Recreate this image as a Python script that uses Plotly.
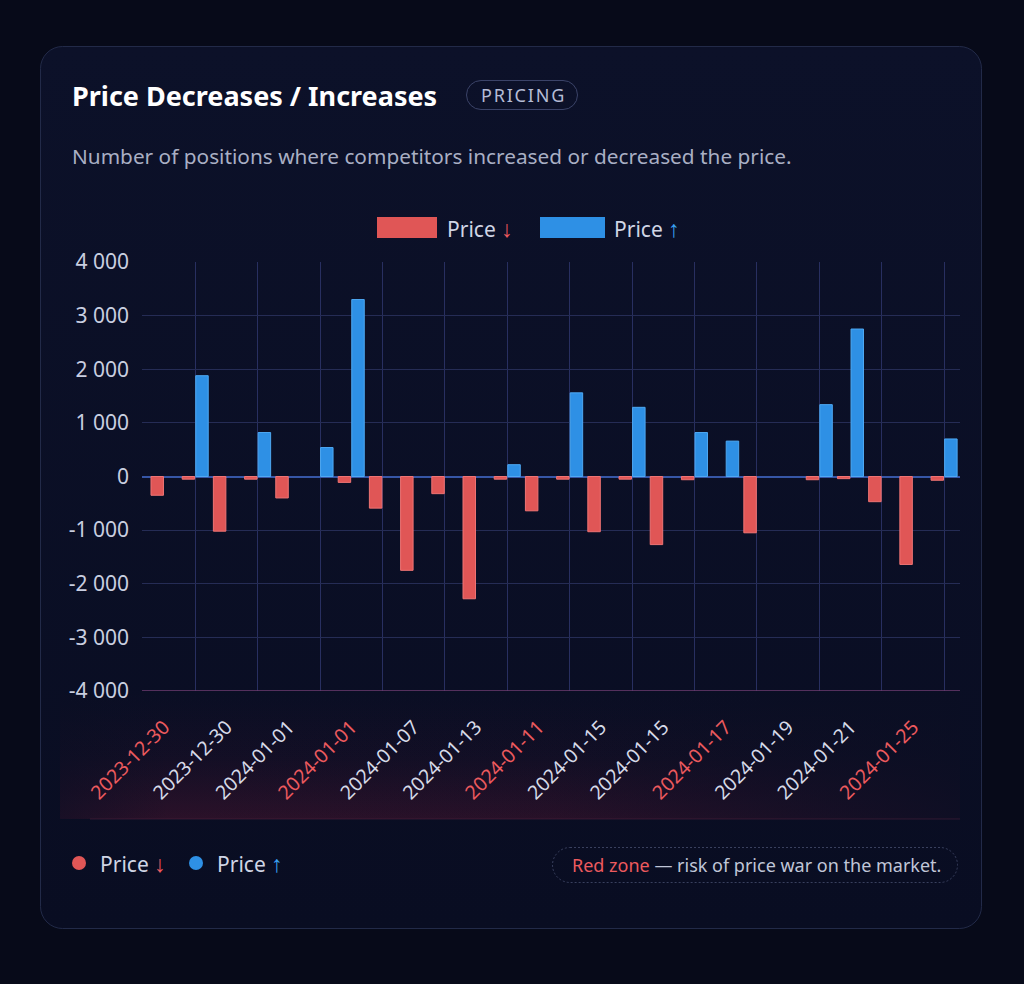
import base64
import plotly.graph_objects as go

# ---------------- data ----------------
DATE_LABELS = ["2023-12-30", "2023-12-30", "2024-01-01", "2024-01-01", "2024-01-07",
               "2024-01-13", "2024-01-11", "2024-01-15", "2024-01-15", "2024-01-17",
               "2024-01-19", "2024-01-21", "2024-01-25"]
RED_LABEL_FLAGS = [True, False, False, True, False, False, True, False, False, True,
                   False, False, True]

# 26 slots (a label every second slot)
PRICE_DOWN = [-350, -50, -1020, -50, -400, None, -110, -590, -1750, -320,
              -2280, -50, -640, -50, -1030, -50, -1270, -60, None, -1050,
              None, -60, -40, -470, -1640, -70]
PRICE_UP = [None, 1880, None, 820, None, 540, 3300, None, None, None,
            None, 220, None, 1560, None, 1290, None, 820, 660, None,
            None, 1340, 2750, None, None, 700]

Y_TICKS = [4000, 3000, 2000, 1000, 0, -1000, -2000, -3000, -4000]
Y_TICK_TEXT = ["4 000", "3 000", "2 000", "1 000", "0", "-1 000", "-2 000", "-3 000", "-4 000"]

TITLE = "Price Decreases / Increases"
BADGE = "PRICING"
SUBTITLE = "Number of positions where competitors increased or decreased the price."
NOTE_RED = "Red zone"
NOTE_REST = " — risk of price war on the market."

# ---------------- style ----------------
RED = "#e05656"
RED_EDGE = "#ef7474"
BLUE = "#2e90e5"
BLUE_EDGE = "#4ea8f2"
ARROW_RED = "#ec5a5e"
ARROW_BLUE = "#3aa2f2"
FONT = "Noto Sans"
W, H = 1024, 984
ML, MR, MT, MB = 142, 64, 262, 293
PW, PH = W - ML - MR, H - MT - MB


def px(x):
    return (x - ML) / PW


def py(y):
    return (H - MB - y) / PH


slots = list(range(len(PRICE_DOWN)))
label_slots = slots[0::2]
grid_slots = slots[1::2]
tick_text = [
    f"<span style='color:{ARROW_RED}'>{d}</span>" if f else d
    for d, f in zip(DATE_LABELS, RED_LABEL_FLAGS)
]

# ---------------- background decoration (svg) ----------------
svg = f"""<svg xmlns='http://www.w3.org/2000/svg' width='{W}' height='{H}' viewBox='0 0 {W} {H}'>
<defs>
<linearGradient id='card' x1='0' y1='0' x2='0' y2='1'>
<stop offset='0' stop-color='#0c1129'/><stop offset='1' stop-color='#090d22'/>
</linearGradient>
<linearGradient id='zone' x1='0' y1='0' x2='0' y2='1'>
<stop offset='0' stop-color='#7a1838' stop-opacity='0'/>
<stop offset='0.5' stop-color='#7a1838' stop-opacity='0.08'/>
<stop offset='1' stop-color='#8a1c3a' stop-opacity='0.26'/>
</linearGradient>
<linearGradient id='zoneh' x1='0' y1='0' x2='1' y2='0'>
<stop offset='0' stop-color='#0a0e23' stop-opacity='0.55'/>
<stop offset='0.12' stop-color='#0a0e23' stop-opacity='0'/>
<stop offset='0.55' stop-color='#0a0e23' stop-opacity='0.1'/>
<stop offset='1' stop-color='#0a0e23' stop-opacity='0.85'/>
</linearGradient>
</defs>
<rect x='0' y='0' width='{W}' height='{H}' fill='#070a19'/>
<rect x='40.5' y='46.5' width='941' height='882' rx='22' fill='url(#card)' stroke='#222a48' stroke-width='1'/>
<rect x='466.5' y='80.5' width='111' height='29' rx='14.5' fill='none' stroke='#3b4368' stroke-width='1'/>
<rect x='60' y='692' width='{ML + PW - 60}' height='127' fill='url(#zone)'/>
<rect x='60' y='692' width='{ML + PW - 60}' height='127' fill='url(#zoneh)'/>
<line x1='90' y1='819' x2='{ML + PW}' y2='819' stroke='#5a2440' stroke-opacity='0.5' stroke-width='1'/>
<rect x='377' y='217' width='60' height='21' fill='{RED}'/>
<rect x='540' y='217' width='65' height='21' fill='{BLUE}'/>
<circle cx='79' cy='863' r='7' fill='{RED}'/>
<circle cx='196' cy='863' r='7' fill='{BLUE}'/>
<rect x='552.5' y='847.5' width='405' height='35' rx='17.5' fill='none' stroke='#39405e' stroke-width='1' stroke-dasharray='2 2'/>
</svg>"""
svg_uri = "data:image/svg+xml;base64," + base64.b64encode(svg.encode()).decode()

# ---------------- figure ----------------
fig = go.Figure()
fig.add_trace(go.Bar(
    x=slots, y=PRICE_DOWN, name="Price ↓",
    marker=dict(color=RED, line=dict(color=RED_EDGE, width=1)),
))
fig.add_trace(go.Bar(
    x=slots, y=PRICE_UP, name="Price ↑",
    marker=dict(color=BLUE, line=dict(color=BLUE_EDGE, width=1)),
))

fig.update_layout(
    width=W, height=H,
    margin=dict(l=ML, r=MR, t=MT, b=MB, pad=0),
    paper_bgcolor="#070a19",
    plot_bgcolor="rgba(0,0,0,0)",
    barmode="group", bargap=0.13, bargroupgap=0.08,
    showlegend=False,
    font=dict(family=FONT, color="#c9cee0"),
    images=[dict(
        source=svg_uri, xref="paper", yref="paper",
        x=px(0), y=py(0), sizex=W / PW, sizey=H / PH,
        xanchor="left", yanchor="top", sizing="stretch", layer="below",
    )],
)

fig.update_xaxes(
    range=[-0.705, 25.51],
    tickmode="array", tickvals=label_slots, ticktext=tick_text,
    tickangle=-45, tickfont=dict(size=19.5, color="#d6dae8", family=FONT),
    showgrid=False, zeroline=False, showline=False, ticks="",
    ticklabelstandoff=20,
    minor=dict(tickmode="array", tickvals=grid_slots, showgrid=True,
               gridcolor="#282f60", gridwidth=1, ticks=""),
)
fig.update_yaxes(
    range=[-4000, 4000],
    tickmode="array", tickvals=Y_TICKS, ticktext=Y_TICK_TEXT,
    tickfont=dict(size=21, color="#c9cee0", family=FONT),
    showgrid=True, gridcolor="#252c55", gridwidth=1,
    zeroline=True, zerolinecolor="#3656a6", zerolinewidth=1.5,
    showline=False, ticks="", ticklabelstandoff=12,
)

fig.add_shape(type="line", xref="paper", x0=0, x1=1, yref="y", y0=-4000, y1=-4000,
              line=dict(color="#6e3c70", width=1.5))

HS = "\u200a"
badge_text = HS.join(BADGE)
ann = []
ann.append(dict(text=f"<b>{TITLE}</b>", x=px(70), y=py(95), xanchor="left", yanchor="middle",
                font=dict(size=27, color="#ffffff", family=FONT)))
ann.append(dict(text=badge_text, x=px(522), y=py(95), xanchor="center", yanchor="middle",
                font=dict(size=18, color="#b5bcd6", family=FONT)))
ann.append(dict(text=SUBTITLE, x=px(70), y=py(156), xanchor="left", yanchor="middle",
                font=dict(size=20.8, color="#a9afc4", family=FONT)))
ann.append(dict(text=f"Price <span style='color:{ARROW_RED};font-size:23px'>↓</span>", x=px(445), y=py(228),
                xanchor="left", yanchor="middle", font=dict(size=21, color="#d0d5e5", family=FONT)))
ann.append(dict(text=f"Price <span style='color:{ARROW_BLUE};font-size:23px'>↑</span>", x=px(612), y=py(228),
                xanchor="left", yanchor="middle", font=dict(size=21, color="#d0d5e5", family=FONT)))
ann.append(dict(text=f"Price <span style='color:{ARROW_RED};font-size:23px'>↓</span>", x=px(98), y=py(863),
                xanchor="left", yanchor="middle", font=dict(size=21, color="#d0d5e5", family=FONT)))
ann.append(dict(text=f"Price <span style='color:{ARROW_BLUE};font-size:23px'>↑</span>", x=px(215), y=py(863),
                xanchor="left", yanchor="middle", font=dict(size=21, color="#d0d5e5", family=FONT)))
ann.append(dict(text=f"<span style='color:{ARROW_RED}'>{NOTE_RED}</span>{NOTE_REST}",
                x=px(756), y=py(865), xanchor="center", yanchor="middle",
                font=dict(size=18, color="#c0c6d8", family=FONT)))
for a in ann:
    a.update(xref="paper", yref="paper", showarrow=False)
fig.update_layout(annotations=ann)

fig.write_html("out.html")
